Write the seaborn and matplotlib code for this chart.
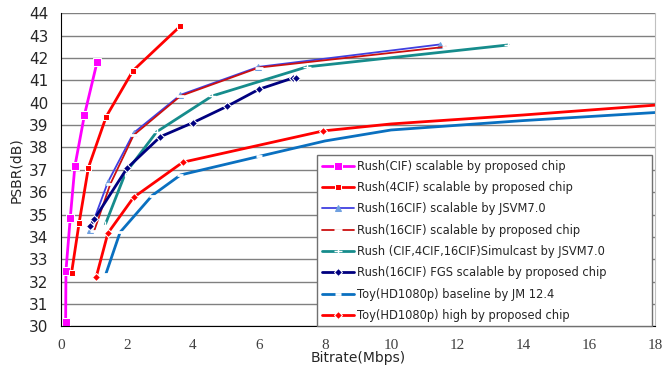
import pandas as pd
import seaborn as sns
import matplotlib.pyplot as plt

# values (bitrate in Mbps, PSNR in dB)
cif_x = [0.14, 0.15, 0.28, 0.42, 0.71, 1.09]
cif_y = [30.2, 32.5, 34.85, 37.16, 39.45, 41.8]

cif4_x = [0.32, 0.55, 0.83, 1.37, 2.18, 3.62]
cif4_y = [32.4, 34.64, 37.1, 39.38, 41.43, 43.43]

jsvm16_x = [0.88, 1.42, 2.2, 3.62, 5.98, 11.47]
jsvm16_y = [34.3, 36.45, 38.65, 40.35, 41.6, 42.6]

prop16_x = [1.0, 1.49, 2.2, 3.62, 6.0, 11.67]
prop16_y = [34.25, 36.35, 38.55, 40.3, 41.57, 42.5]

simul_x = [1.34, 1.95, 2.9, 4.58, 7.45, 13.55]
simul_y = [34.55, 36.85, 38.7, 40.3, 41.6, 42.58]

fgs_x = [0.88, 1.01, 2.0, 3.01, 4.0, 5.02, 6.0, 7.02, 7.12]
fgs_y = [34.5, 34.8, 37.07, 38.48, 39.11, 39.83, 40.6, 41.1, 41.12]

jm_x = [1.36, 1.79, 2.76, 3.62, 6.0, 8.0, 10.0, 14.0, 18.0]
jm_y = [32.35, 34.21, 35.85, 36.77, 37.6, 38.29, 38.78, 39.2, 39.56]

high_x = [1.07, 1.42, 2.2, 3.69, 7.95, 10.0, 14.0, 18.0]
high_y = [32.23, 34.17, 35.77, 37.34, 38.74, 39.05, 39.45, 39.89]

labels = [
    "Rush(CIF) scalable by proposed chip",
    "Rush(4CIF) scalable by proposed chip",
    "Rush(16CIF) scalable by JSVM7.0",
    "Rush(16CIF) scalable by proposed chip",
    "Rush (CIF,4CIF,16CIF)Simulcast by JSVM7.0",
    "Rush(16CIF) FGS scalable by proposed chip",
    "Toy(HD1080p) baseline by JM 12.4",
    "Toy(HD1080p) high by proposed chip",
]

series = [
    (cif_x, cif_y, dict(color="#FF00FF", marker="s", markersize=6, lw=2)),
    (cif4_x, cif4_y, dict(color="#FF0000", marker="s", markersize=5, lw=2)),
    (jsvm16_x, jsvm16_y, dict(color="#4040E0", marker="^", markersize=5,
                              markerfacecolor="#6FA0E0", markeredgecolor="#6FA0E0", lw=1.3)),
    (prop16_x, prop16_y, dict(color="#CC1010", marker="_", markersize=6, mew=2, lw=1.3)),
    (simul_x, simul_y, dict(color="#168C8C", marker="+", markersize=6, mew=1, lw=2)),
    (fgs_x, fgs_y, dict(color="#00007F", marker="D", markersize=4, lw=2)),
    (jm_x, jm_y, dict(color="#0A70C0", marker="_", markersize=5, mew=2, lw=2,
                      markevery=[0, 1, 2, 3, 4])),
    (high_x, high_y, dict(color="#FF0000", marker="D", markersize=4, lw=2,
                          markevery=[0, 1, 2, 3, 4])),
]

sns.set_style("white")
fig = plt.figure(figsize=(6.72, 3.66), dpi=100)
ax = fig.add_axes([0.0908, 0.108, 0.884, 0.856])

for (xs, ys, kw), lab in zip(series, labels):
    df = pd.DataFrame({"x": xs, "y": ys})
    sns.lineplot(data=df, x="x", y="y", ax=ax, sort=False, estimator=None,
                 label=lab, **kw)

ax.set_xlim(0, 18)
ax.set_ylim(30, 44)
ax.set_xticks(range(0, 19, 2))
ax.set_yticks(range(30, 45))
ax.yaxis.grid(True, color="#808080", lw=1)
ax.xaxis.grid(False)
ax.set_axisbelow(True)
ax.spines["top"].set_visible(False)
ax.spines["right"].set_color("#C0C0C0")
ax.spines["left"].set_color("black")
ax.spines["bottom"].set_color("black")

ax.tick_params(axis="x", direction="in", length=3, pad=9, labelsize=11,
               labelfontfamily="Liberation Serif", labelcolor="#404040")
ax.tick_params(axis="y", length=0, pad=9, labelsize=11)
ax.set_xlabel("Bitrate(Mbps)", fontsize=10, va="bottom")
ax.xaxis.set_label_coords(0.5, -0.124)
ax.set_ylabel("PSBR(dB)", fontsize=10, labelpad=4)

leg = ax.legend(loc="lower left", bbox_to_anchor=(0.431, 0.0, 0.564, 0.548),
                mode="expand", fontsize=8.3, frameon=True, fancybox=False,
                edgecolor="#707070", framealpha=1, handlelength=2.8,
                handletextpad=0.3, borderpad=0.4, labelspacing=0.72,
                borderaxespad=0)
leg.get_frame().set_linewidth(1)

fig.savefig("out.png", dpi=100)
